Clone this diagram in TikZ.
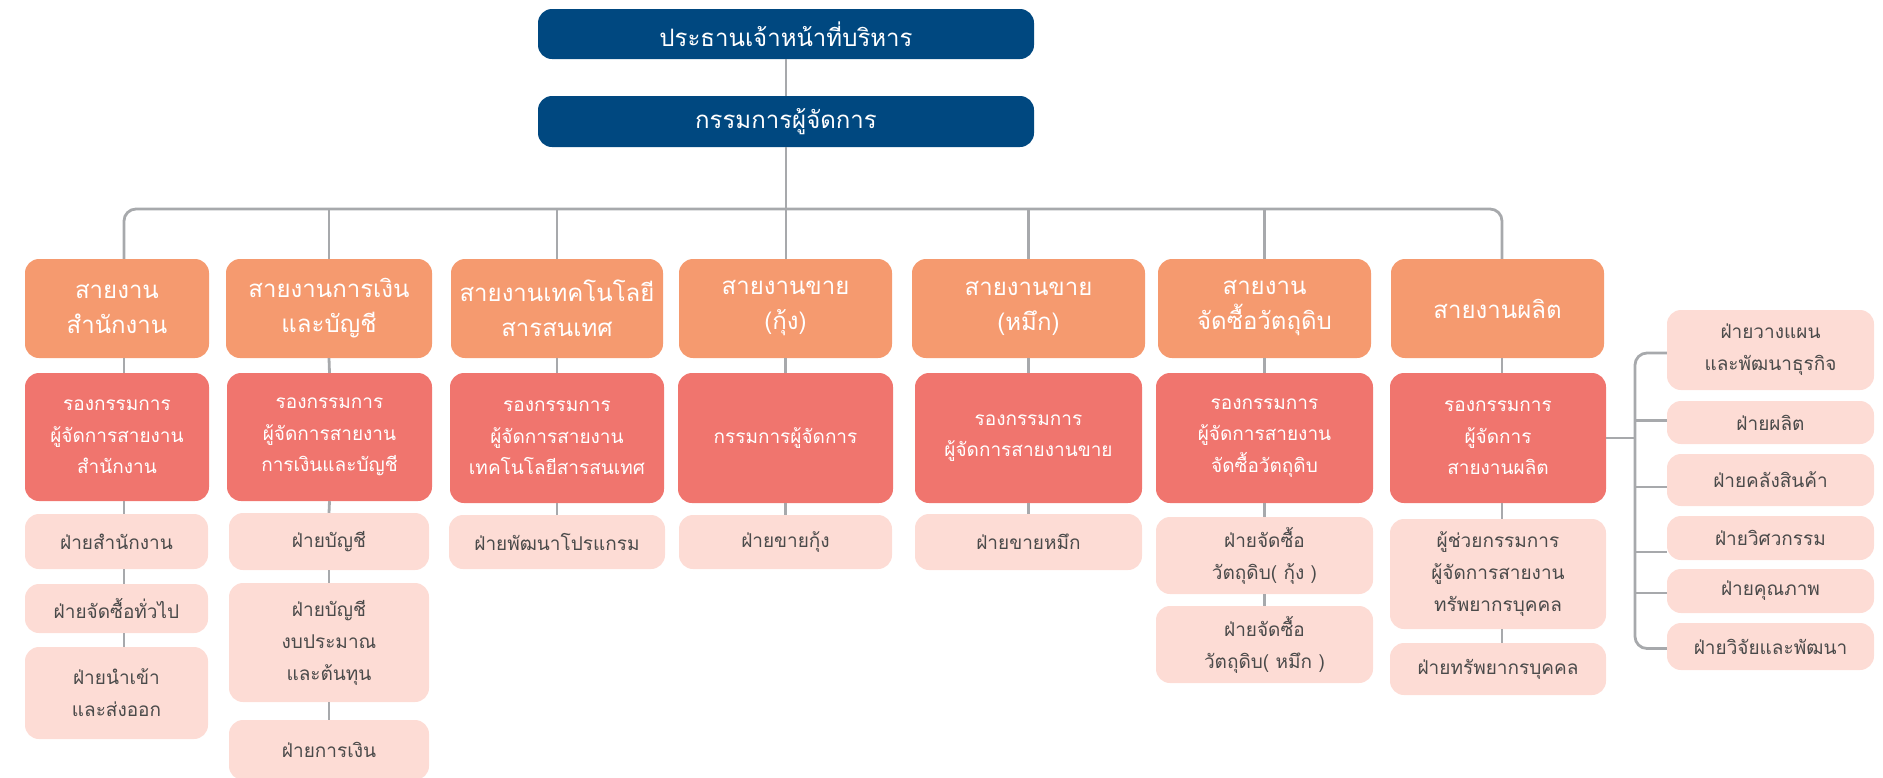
\documentclass[tikz,border=0pt]{standalone}
\usepackage{fontspec}
\setmainfont[Script=Thai]{Loma}
\usetikzlibrary{calc}
\definecolor{cdark}{RGB}{0,72,128}
\definecolor{corange}{RGB}{245,154,111}
\definecolor{cred}{RGB}{240,117,110}
\definecolor{cpink}{RGB}{253,220,213}
\definecolor{cline}{RGB}{167,169,172}
\definecolor{ctext}{RGB}{74,74,74}
\tikzset{
  basebox/.style={rounded corners=14, inner sep=0pt, align=center, draw=none},
  leadbox/.style={basebox, fill=cdark, text=white, font=\fontsize{24}{30}\selectfont},
  linebox/.style={basebox, fill=corange, text=white, font=\fontsize{24}{35}\selectfont},
  vpbox/.style={basebox, fill=cred, text=white, font=\fontsize{19}{31.5}\selectfont},
  deptbox/.style={basebox, fill=cpink, text=ctext, font=\fontsize{19}{32}\selectfont},
  conn/.style={draw=cline, line width=2.8pt},
}
\newcommand\obox[7]{\node[#1, minimum width={(#5)-(#3)}, minimum height={(#6)-(#4)}] (#2) at ({((#3)+(#5))/2},{((#4)+(#6))/2}) {#7};}
\begin{document}
\begin{tikzpicture}[x=1pt, y=-1pt]
\useasboundingbox (0,0) rectangle (1883,777);
% top
\obox{leadbox}{ceo}{538}{9}{1034}{59}{ประธานเจ้าหน้าที่บริหาร}
\obox{leadbox}{md}{538}{96}{1034}{147}{กรรมการผู้จัดการ}
% line heads
\obox{linebox}{o1}{25}{259}{209}{358}{สายงาน\\สำนักงาน}
\obox{linebox}{o2}{226}{259}{432}{358}{สายงานการเงิน\\และบัญชี}
\obox{linebox}{o3}{451}{259}{663}{358}{สายงานเทคโนโลยี\\สารสนเทศ}
\obox{linebox}{o4}{679}{259}{892}{358}{สายงานขาย\\(กุ้ง)}
\obox{linebox}{o5}{912}{259}{1145}{358}{สายงานขาย\\(หมึก)}
\obox{linebox}{o6}{1158}{259}{1371}{358}{สายงาน\\จัดซื้อวัตถุดิบ}
\obox{linebox}{o7}{1391}{259}{1604}{358}{สายงานผลิต}
% vice presidents
\obox{vpbox}{r1}{25}{373}{209}{501}{รองกรรมการ\\ผู้จัดการสายงาน\\สำนักงาน}
\obox{vpbox}{r2}{227}{373}{432}{501}{รองกรรมการ\\ผู้จัดการสายงาน\\การเงินและบัญชี}
\obox{vpbox}{r3}{450}{373}{664}{503}{รองกรรมการ\\ผู้จัดการสายงาน\\เทคโนโลยีสารสนเทศ}
\obox{vpbox}{r4}{678}{373}{893}{503}{กรรมการผู้จัดการ}
\obox{vpbox}{r5}{915}{373}{1142}{503}{รองกรรมการ\\ผู้จัดการสายงานขาย}
\obox{vpbox}{r6}{1156}{373}{1373}{503}{รองกรรมการ\\ผู้จัดการสายงาน\\จัดซื้อวัตถุดิบ}
\obox{vpbox}{r7}{1390}{373}{1606}{503}{รองกรรมการ\\ผู้จัดการ\\สายงานผลิต}
% departments
\obox{deptbox}{p11}{25}{514}{208}{569}{ฝ่ายสำนักงาน}
\obox{deptbox}{p12}{25}{584}{208}{633}{ฝ่ายจัดซื้อทั่วไป}
\obox{deptbox}{p13}{25}{647}{208}{739}{ฝ่ายนำเข้า\\และส่งออก}
\obox{deptbox}{p21}{229}{513}{429}{570}{ฝ่ายบัญชี}
\obox{deptbox}{p22}{229}{583}{429}{702}{ฝ่ายบัญชี\\งบประมาณ\\และต้นทุน}
\obox{deptbox}{p23}{229}{720}{429}{780}{ฝ่ายการเงิน}
\obox{deptbox}{p31}{449}{515}{665}{569}{ฝ่ายพัฒนาโปรแกรม}
\obox{deptbox}{p41}{679}{515}{892}{569}{ฝ่ายขายกุ้ง}
\obox{deptbox}{p51}{915}{514}{1142}{570}{ฝ่ายขายหมึก}
\obox{deptbox}{p61}{1156}{517}{1373}{594}{ฝ่ายจัดซื้อ\\วัตถุดิบ( กุ้ง )}
\obox{deptbox}{p62}{1156}{606}{1373}{683}{ฝ่ายจัดซื้อ\\วัตถุดิบ( หมึก )}
\obox{deptbox}{p71}{1390}{519}{1606}{629}{ผู้ช่วยกรรมการ\\ผู้จัดการสายงาน\\ทรัพยากรบุคคล}
\obox{deptbox}{p72}{1390}{643}{1606}{695}{ฝ่ายทรัพยากรบุคคล}
% production departments
\obox{deptbox}{b1}{1667}{310}{1874}{390}{ฝ่ายวางแผน\\และพัฒนาธุรกิจ}
\obox{deptbox}{b2}{1667}{401}{1874}{444}{ฝ่ายผลิต}
\obox{deptbox}{b3}{1667}{454}{1874}{506}{ฝ่ายคลังสินค้า}
\obox{deptbox}{b4}{1667}{516}{1874}{560}{ฝ่ายวิศวกรรม}
\obox{deptbox}{b5}{1667}{569}{1874}{613}{ฝ่ายคุณภาพ}
\obox{deptbox}{b6}{1667}{623}{1874}{670}{ฝ่ายวิจัยและพัฒนา}
% helper coordinates
\coordinate (bus) at (0,209);
\coordinate (x1) at (124,0);
\coordinate (x7) at (1502,0);
\coordinate (brk) at (1635,0);
% connectors
\draw[conn] (ceo.south) -- (md.north);
\draw[conn] (md.south) -- (md.south |- o4.north);
\draw[conn, rounded corners=12] (o1.north -| x1) |- (md.south |- bus) -| (o7.north -| x7);
\foreach \c in {o2,o3,o5,o6} \draw[conn] (\c.north) -- (\c.north |- bus);
% column 1
\draw[conn] (o1.south -| x1) -- (r1.north -| x1);
\draw[conn] (r1.south -| x1) -- (p11.north -| x1);
\draw[conn] (p11.south -| x1) -- (p12.north -| x1);
\draw[conn] (p12.south -| x1) -- (p13.north -| x1);
% column 2
\draw[conn] (o2.south) -- (r2.north);
\draw[conn] (r2.south) -- (p21.north);
\draw[conn] (p21.south) -- (p22.north);
\draw[conn] (p22.south) -- (p23.north);
% columns 3-6
\draw[conn] (o3.south) -- (r3.north);
\draw[conn] (r3.south) -- (p31.north);
\draw[conn] (o4.south) -- (r4.north);
\draw[conn] (r4.south) -- (p41.north);
\draw[conn] (o5.south) -- (r5.north);
\draw[conn] (r5.south) -- (p51.north);
\draw[conn] (o6.south) -- (r6.north);
\draw[conn] (r6.south) -- (p61.north);
\draw[conn] (p61.south) -- (p62.north);
% column 7
\draw[conn] (o7.south -| x7) -- (r7.north -| x7);
\draw[conn] (r7.south -| x7) -- (p71.north -| x7);
\draw[conn] (p71.south -| x7) -- (p72.north -| x7);
% production bracket
\draw[conn] (r7.east) -- (r7.east -| brk);
\draw[conn, rounded corners=12] ($(b1.west)+(0,3)$) -| ($(b6.west -| brk)+(0,2)$) -- ($(b6.west)+(0,2)$);
\draw[conn] ($(b2.west)+(0,-2)$) -- ($(b2.west -| brk)+(0,-2)$);
\draw[conn] ($(b3.west)+(0,7)$) -- ($(b3.west -| brk)+(0,7)$);
\draw[conn] ($(b4.west)+(0,14)$) -- ($(b4.west -| brk)+(0,14)$);
\draw[conn] ($(b5.west)+(0,2)$) -- ($(b5.west -| brk)+(0,2)$);
\end{tikzpicture}
\end{document}
